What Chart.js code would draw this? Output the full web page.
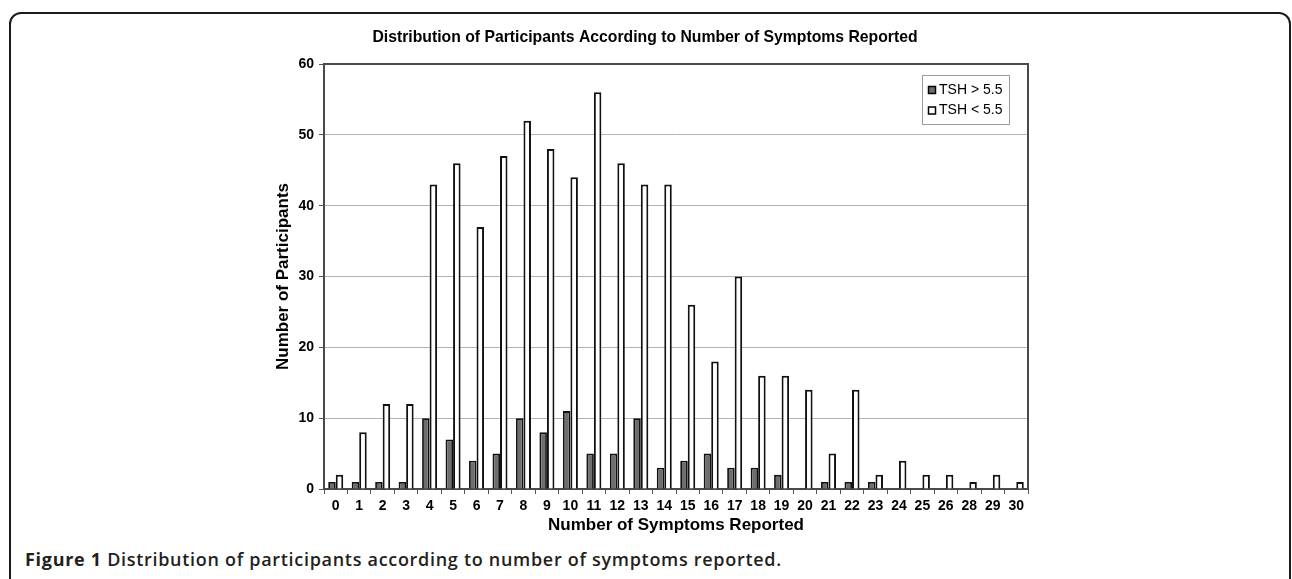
<!DOCTYPE html>
<html>
<head>
<meta charset="utf-8">
<script src="https://cdn.jsdelivr.net/npm/chart.js@4/dist/chart.umd.min.js"></script>
<style>
  html, body { margin: 0; padding: 0; background: #fff; }
  #wrap { position: relative; width: 1292px; height: 579px; overflow: hidden; background: #fff; }
  #frame { position: absolute; left: 9px; top: 12px; width: 1282px; height: 600px; box-sizing: border-box;
           border: 2px solid #1c1c1c; border-radius: 12px; }
  #cv { position: absolute; left: 0; top: 0; }
  #caption { position: absolute; left: 25px; top: 548px; font-family: "Open Sans", sans-serif; font-size: 18px;
             letter-spacing: 0.7px; font-weight: 600; color: #231f20; white-space: nowrap; line-height: 22px; }
  #caption b { font-weight: 700; }
</style>
</head>
<body>
<div id="wrap">
  <div id="frame"></div>
  <canvas id="cv" width="1292" height="540"></canvas>
  <div id="caption"><b>Figure 1</b> Distribution of participants according to number of symptoms reported.</div>
</div>
<script>
const categories = ['0','1','2','3','4','5','6','7','8','9','10','11','12','13','14','15','16','17','18','19','20','21','22','23','24','25','26','28','29','30'];
const tshAbove = [1,1,1,1,10,7,4,5,10,8,11,5,5,10,3,4,5,3,3,2,0,1,1,1,0,0,0,0,0,0];
const tshBelow = [2,8,12,12,43,46,37,47,52,48,44,56,46,43,43,26,18,30,16,16,14,5,14,2,4,2,2,1,2,1];
const seriesNames = ['TSH > 5.5', 'TSH < 5.5'];
const yTickValues = [0,10,20,30,40,50,60];

const FONT = 'Liberation Sans, Arial, sans-serif';

const frameAndLegend = {
  id: 'frameAndLegend',
  beforeDatasetsDraw(chart) {
    const a = chart.chartArea, ctx = chart.ctx;
    ctx.save();
    ctx.strokeStyle = '#4a4a4a';
    ctx.lineWidth = 2;
    ctx.beginPath();
    ctx.moveTo(a.left, a.top);
    ctx.lineTo(a.right, a.top);
    ctx.lineTo(a.right, a.bottom);
    ctx.stroke();
    ctx.restore();
  },
  afterDraw(chart) {
    const a = chart.chartArea, ctx = chart.ctx;
    const w = 87, h = 49;
    const x0 = a.right - 19 - w, y0 = a.top + 11;
    ctx.save();
    ctx.fillStyle = '#fff';
    ctx.fillRect(x0, y0, w, h);
    ctx.strokeStyle = '#9a9a9a';
    ctx.lineWidth = 1;
    ctx.strokeRect(x0 + 0.5, y0 + 0.5, w, h);
    ctx.font = '14px ' + FONT;
    ctx.textBaseline = 'middle';
    chart.data.datasets.forEach((ds, i) => {
      const cy = y0 + 15 + i * 20.5;
      ctx.fillStyle = ds.backgroundColor;
      ctx.fillRect(x0 + 6, cy - 4, 8, 8);
      ctx.strokeStyle = '#000';
      ctx.lineWidth = 1.5;
      ctx.strokeRect(x0 + 6.5, cy - 3.5, 7, 7);
      ctx.fillStyle = '#000';
      ctx.fillText(ds.label, x0 + 17, cy);
    });
    ctx.restore();
  }
};

new Chart(document.getElementById('cv'), {
  type: 'bar',
  data: {
    labels: categories,
    datasets: [
      { label: seriesNames[0], data: tshAbove, backgroundColor: '#6e6e6e', borderColor: '#111', borderWidth: 1.8 },
      { label: seriesNames[1], data: tshBelow, backgroundColor: '#ffffff', borderColor: '#111', borderWidth: 2 }
    ]
  },
  options: {
    responsive: false,
    animation: false,
    devicePixelRatio: 1,
    layout: { padding: { left: 262, right: 264, top: 20, bottom: 4.3 } },
    datasets: { bar: { categoryPercentage: 0.64, barPercentage: 1.0 } },
    plugins: {
      legend: { display: false },
      tooltip: { enabled: false },
      title: {
        display: true,
        text: 'Distribution of Participants According to Number of Symptoms Reported',
        color: '#000',
        font: { family: FONT, size: 15.75, weight: 'bold' },
        padding: { top: 8.55, bottom: 16.55 }
      }
    },
    scales: {
      x: {
        type: 'category',
        offset: true,
        afterFit(s) { s.height = 46.7; },
        grid: { display: true, offset: true, drawOnChartArea: false, drawTicks: true, tickLength: 5, color: '#555', lineWidth: 1 },
        border: { display: true, color: '#4a4a4a', width: 2 },
        ticks: { color: '#000', font: { family: FONT, size: 14, weight: 'bold' }, padding: 4, maxRotation: 0, autoSkip: false },
        title: { display: true, text: 'Number of Symptoms Reported', color: '#000',
                 font: { family: FONT, size: 17, weight: 'bold' }, padding: { top: 0, bottom: 0 } }
      },
      y: {
        min: 0, max: 60,
        afterFit(s) { s.width = 62; },
        afterBuildTicks(s) { s.ticks = yTickValues.map(v => ({ value: v })); },
        grid: { color: '#b3b3b3', lineWidth: 1, tickLength: 5, tickColor: '#555', drawTicks: true },
        border: { display: true, color: '#4a4a4a', width: 2 },
        ticks: { color: '#000', font: { family: FONT, size: 14, weight: 'bold' }, padding: 5 },
        title: { display: true, text: 'Number of Participants', color: '#000',
                 font: { family: FONT, size: 17, weight: 'bold' }, padding: { top: 10.8, bottom: 0 } }
      }
    }
  },
  plugins: [frameAndLegend]
});
</script>
</body>
</html>
